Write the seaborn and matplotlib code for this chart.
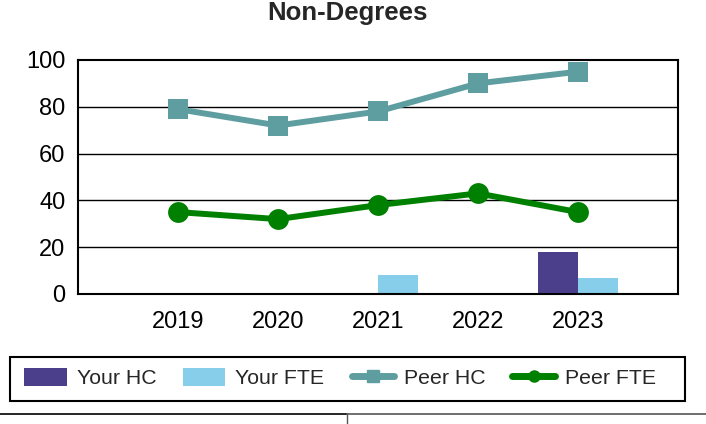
import numpy as np
import pandas as pd
import matplotlib
matplotlib.use("Agg")
import matplotlib.pyplot as plt
from matplotlib.lines import Line2D
from matplotlib.patches import Patch, Rectangle
import seaborn as sns

years = ["2019", "2020", "2021", "2022", "2023"]
your_hc = [0, 0, 0, 0, 18]
your_fte = [0, 0, 8, 0, 7]
peer_hc = [79, 72, 78, 90, 95]
peer_fte = [35, 32, 38, 43, 35]

c_hc = "#4B3F8C"
c_fte = "#87CEEB"
c_phc = "#5F9EA0"
c_pfte = "#008000"

sns.set_style("white")
plt.rcParams["font.family"] = ["Liberation Sans", "DejaVu Sans"]

fig = plt.figure(figsize=(7.06, 4.24), dpi=100)
ax = fig.add_axes([78/706, 1-294/424, 600/706, 234/424])

df = pd.DataFrame({
    "year": years * 2,
    "value": your_hc + your_fte,
    "series": ["Your HC"] * len(years) + ["Your FTE"] * len(years),
})
sns.barplot(data=df, x="year", y="value", hue="series", order=years,
            hue_order=["Your HC", "Your FTE"], palette=[c_hc, c_fte],
            width=0.8, saturation=1, ax=ax, legend=False, linewidth=0)

pos = np.arange(len(years))
sns.lineplot(x=pos, y=peer_hc, ax=ax, color=c_phc, lw=4.3, marker="s",
             markersize=14, markeredgewidth=0, legend=False)
sns.lineplot(x=pos, y=peer_fte, ax=ax, color=c_pfte, lw=4.3, marker="o",
             markersize=15, markeredgewidth=0, legend=False)

ax.set_xlim(-1, len(years))
ax.set_ylim(0, 100)
ax.set_xticks(np.arange(-1, len(years) + 1))
ax.set_xticklabels([""] + years + [""])
ax.set_yticks([0, 20, 40, 60, 80, 100])
ax.set_xlabel("")
ax.set_ylabel("")
for y in [20, 40, 60, 80]:
    ax.axhline(y, color="black", lw=1.0, zorder=0.5)
for s in ax.spines.values():
    s.set_color("black")
    s.set_linewidth(1.5)
ax.tick_params(axis="both", which="both", direction="out", length=5, width=1.2,
               color="black", labelsize=17, labelcolor="black", pad=4)
ax.tick_params(axis="x", pad=7)

fig.text(347/706, 1-13/424, "Non-Degrees", ha="center", va="center",
         fontsize=18.5, fontweight="bold")

handles = [
    Patch(facecolor=c_hc, edgecolor="none"),
    Patch(facecolor=c_fte, edgecolor="none"),
    Line2D([], [], color=c_phc, lw=5, marker="s", markersize=8),
    Line2D([], [], color=c_pfte, lw=5, marker="o", markersize=8),
]
labels = ["Your HC", "Your FTE", "Peer HC", "Peer FTE"]
leg = fig.legend(handles, labels, loc="center", bbox_to_anchor=(340/706, 1-378/424),
                 ncol=4, fontsize=15.3, frameon=False,
                 handlelength=1.98, handleheight=0.95,
                 columnspacing=1.28, handletextpad=0.47, borderpad=0.2,
                 borderaxespad=0)

fig.add_artist(Rectangle((10/706, 1-401/424), 675/706, 44/424, fill=False,
                         edgecolor="black", lw=1.5, transform=fig.transFigure))
fig.add_artist(Line2D([0, 347/706], [1-414/424, 1-414/424], color="black", lw=1.2,
                      transform=fig.transFigure))
fig.add_artist(Line2D([347/706, 1], [1-414/424, 1-414/424], color="#555555", lw=1.2,
                      transform=fig.transFigure))
fig.add_artist(Line2D([347/706, 347/706], [1-414/424, 0], color="#555555", lw=1.0,
                      transform=fig.transFigure))

fig.savefig("out.png", dpi=100)
